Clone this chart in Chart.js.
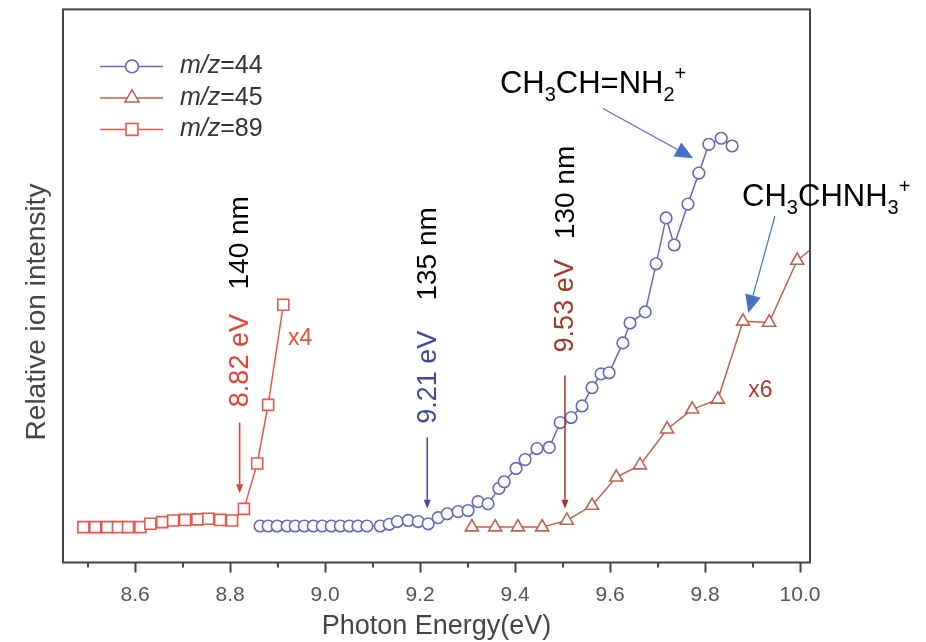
<!DOCTYPE html>
<html>
<head>
<meta charset="utf-8">
<title>Photoionization efficiency curves</title>
<script src="https://cdn.jsdelivr.net/npm/chart.js@4.4.1/dist/chart.umd.min.js"></script>
<style>
  html, body { margin: 0; padding: 0; background: #fff; }
  canvas { display: block; }
</style>
</head>
<body>
<canvas id="chart" width="926" height="642"></canvas>
<script>
// photon energy (eV) and relative ion intensity (arb. units)
const energy44 = [8.863, 8.880, 8.899, 8.920, 8.937, 8.956, 8.975, 8.994, 9.013, 9.032, 9.051, 9.069, 9.088,
  9.116, 9.135, 9.152, 9.175, 9.196, 9.217, 9.238, 9.257, 9.280, 9.301, 9.322, 9.343, 9.366, 9.377,
  9.402, 9.421, 9.446, 9.472, 9.495, 9.518, 9.541, 9.562, 9.581, 9.598, 9.627, 9.642, 9.674, 9.697,
  9.718, 9.735, 9.764, 9.787, 9.808, 9.834, 9.857];
const intensity44 = [6.6, 6.6, 6.6, 6.6, 6.6, 6.6, 6.6, 6.6, 6.6, 6.6, 6.6, 6.6, 6.6,
  6.6, 6.9, 7.4, 7.6, 7.4, 7.0, 8.1, 8.8, 9.2, 9.4, 11.0, 10.6, 13.4, 14.6,
  17.0, 18.6, 20.6, 20.8, 25.3, 26.2, 28.3, 31.6, 34.1, 34.3, 39.7, 43.3, 45.3, 54.0,
  62.3, 57.4, 64.8, 70.4, 75.6, 76.7, 75.3];

const energy45 = [9.309, 9.358, 9.406, 9.457, 9.509, 9.562, 9.613, 9.663, 9.720, 9.773, 9.827, 9.880, 9.935, 9.994, 10.05];
const intensity45 = [6.4, 6.4, 6.4, 6.4, 7.6, 10.3, 15.4, 17.6, 24.1, 27.7, 29.5, 43.6, 43.4, 54.6, 58.5];

const energy89 = [8.491, 8.516, 8.541, 8.564, 8.585, 8.611, 8.632, 8.657, 8.680, 8.705, 8.731, 8.754, 8.779, 8.804,
  8.829, 8.857, 8.880, 8.912];
const intensity89 = [6.4, 6.4, 6.4, 6.4, 6.4, 6.4, 7.0, 7.3, 7.6, 7.7, 7.8, 7.9, 7.7, 7.6,
  9.7, 17.9, 28.5, 46.6];

const majorTicks = [8.6, 8.8, 9.0, 9.2, 9.4, 9.6, 9.8, 10.0];
const minorTicks = [8.5, 8.7, 8.9, 9.1, 9.3, 9.5, 9.7, 9.9];

const FONT = "'Liberation Sans', Arial, Helvetica, sans-serif";
const BLUE = "#6469bd";
const BROWN = "#c2604e";
const RED = "#ec5448";

const points = (xs, ys) => xs.map((x, i) => ({ x, y: ys[i] }));

// threshold arrows: energy, arrow top, arrow tip, label centres (data units)
const thresholds = [
  { x: 8.82, from: 25.3, to: 12.5, color: "#ee3b2e", ev: "8.82 eV", nm: "140 nm", evY: 36.5, nmY: 57.8 },
  { x: 9.215, from: 22.6, to: 9.7, color: "#4048a6", ev: "9.21 eV", nm: "135 nm", evY: 33.5, nmY: 55.8 },
  { x: 9.505, from: 33.8, to: 9.7, color: "#a5372a", ev: "9.53 eV", nm: "130 nm", evY: 46.4, nmY: 66.9 },
];

function drawArrow(ctx, x1, y1, x2, y2, color, width, headLen, headHalf) {
  const ang = Math.atan2(y2 - y1, x2 - x1);
  const bx = x2 - headLen * Math.cos(ang);
  const by = y2 - headLen * Math.sin(ang);
  ctx.strokeStyle = color;
  ctx.lineWidth = width;
  ctx.beginPath();
  ctx.moveTo(x1, y1);
  ctx.lineTo(bx, by);
  ctx.stroke();
  ctx.fillStyle = color;
  ctx.beginPath();
  ctx.moveTo(x2, y2);
  ctx.lineTo(bx + headHalf * Math.sin(ang), by - headHalf * Math.cos(ang));
  ctx.lineTo(bx - headHalf * Math.sin(ang), by + headHalf * Math.cos(ang));
  ctx.closePath();
  ctx.fill();
}

function vText(ctx, text, x, y, color, size) {
  ctx.save();
  ctx.translate(x, y);
  ctx.rotate(-Math.PI / 2);
  ctx.font = size + "px " + FONT;
  ctx.fillStyle = color;
  ctx.textAlign = "center";
  ctx.textBaseline = "middle";
  ctx.fillText(text, 0, 0);
  ctx.restore();
}

// chemical formula with sub/superscripts, x = left edge, y = baseline
function chem(ctx, parts, x, y, size) {
  ctx.fillStyle = "#000";
  ctx.textAlign = "left";
  ctx.textBaseline = "alphabetic";
  for (const [txt, kind] of parts) {
    const small = Math.round(size * 0.66);
    ctx.font = (kind === "n" ? size : small) + "px " + FONT;
    const dy = kind === "sub" ? size * 0.25 : kind === "sup" ? -size * 0.42 : 0;
    ctx.fillText(txt, x, y + dy);
    x += ctx.measureText(txt).width;
  }
}

const overlay = {
  id: "overlay",
  afterDraw(chart) {
    const { ctx, chartArea: a, scales: { x, y } } = chart;
    ctx.save();

    // frame
    ctx.strokeStyle = "#444";
    ctx.lineWidth = 2;
    ctx.strokeRect(a.left, a.top, a.right - a.left, a.bottom - a.top);

    // minor ticks
    for (const v of minorTicks) {
      const px = Math.round(x.getPixelForValue(v));
      ctx.beginPath();
      ctx.moveTo(px, a.bottom);
      ctx.lineTo(px, a.bottom + 5);
      ctx.stroke();
    }

    // y title
    vText(ctx, "Relative ion intensity", 37, 312, "#444", 28);

    // threshold arrows and labels
    for (const t of thresholds) {
      const px = x.getPixelForValue(t.x);
      drawArrow(ctx, px, y.getPixelForValue(t.from), px, y.getPixelForValue(t.to), t.color, 1.5, 9, 3.5);
      vText(ctx, t.ev, px + 1, y.getPixelForValue(t.evY), t.color, 27);
      vText(ctx, t.nm, px + 1, y.getPixelForValue(t.nmY), "#000", 28);
    }

    // scale factors
    ctx.font = "23px " + FONT;
    ctx.textAlign = "left";
    ctx.textBaseline = "middle";
    ctx.fillStyle = "#ec4a3c";
    ctx.fillText("x4", x.getPixelForValue(8.922), y.getPixelForValue(40.4));
    ctx.fillStyle = "#a8402e";
    ctx.fillText("x6", x.getPixelForValue(9.891), y.getPixelForValue(31.0));

    // ion assignments
    chem(ctx, [["CH", "n"], ["3", "sub"], ["CH=NH", "n"], ["2", "sub"], ["+", "sup"]],
      x.getPixelForValue(9.368), y.getPixelForValue(84.8), 31);
    drawArrow(ctx, x.getPixelForValue(9.585), y.getPixelForValue(82.1),
      x.getPixelForValue(9.775), y.getPixelForValue(73.1), "#4472c4", 1.2, 18, 8);
    chem(ctx, [["CH", "n"], ["3", "sub"], ["CHNH", "n"], ["3", "sub"], ["+", "sup"]],
      x.getPixelForValue(9.878), y.getPixelForValue(64.4), 31);
    drawArrow(ctx, x.getPixelForValue(9.947), y.getPixelForValue(62.6),
      x.getPixelForValue(9.891), y.getPixelForValue(45.1), "#4472c4", 1.2, 18, 8);

    // legend
    chart.data.datasets.forEach((ds, i) => {
      const ly = a.top + 57 + i * 31.5;
      const lx = a.left + 37;
      ctx.strokeStyle = ds.borderColor;
      ctx.lineWidth = 1.5;
      ctx.beginPath();
      ctx.moveTo(lx, ly);
      ctx.lineTo(lx + 63, ly);
      ctx.stroke();
      ctx.fillStyle = "#fff";
      ctx.lineWidth = 1.6;
      Chart.helpers.drawPoint(ctx, { pointStyle: ds.pointStyle, radius: ds.pointRadius + 0.6, borderWidth: 1.6, rotation: 0 }, lx + 32, ly);
      ctx.fillStyle = "#333";
      ctx.textBaseline = "middle";
      ctx.textAlign = "left";
      ctx.font = "italic 25px " + FONT;
      ctx.fillText("m/z", lx + 80, ly);
      const w = ctx.measureText("m/z").width;
      ctx.font = "25px " + FONT;
      ctx.fillText("=" + ds.label.split("=")[1], lx + 80 + w, ly);
    });

    ctx.restore();
  },
};

function series(label, xs, ys, color, style, radius) {
  return {
    label,
    data: points(xs, ys),
    borderColor: color,
    backgroundColor: "#fff",
    borderWidth: 1.5,
    pointStyle: style,
    pointRadius: radius,
    pointBorderWidth: 1.6,
    pointBackgroundColor: "#fff",
    pointBorderColor: color,
    tension: 0,
    fill: false,
  };
}

new Chart(document.getElementById("chart"), {
  type: "line",
  data: {
    datasets: [
      series("m/z=44", energy44, intensity44, BLUE, "circle", 5.8),
      series("m/z=45", energy45, intensity45, BROWN, "triangle", 7.5),
      series("m/z=89", energy89, intensity89, RED, "rect", 7.8),
    ],
  },
  options: {
    responsive: false,
    animation: false,
    devicePixelRatio: 1,
    layout: { padding: { left: 63, top: 8, right: 116, bottom: 3 } },
    plugins: { legend: { display: false }, tooltip: { enabled: false } },
    scales: {
      x: {
        type: "linear",
        min: 8.448,
        max: 10.021,
        afterBuildTicks: (scale) => {
          scale.ticks = majorTicks.map((v) => ({ value: v }));
        },
        border: { display: false },
        grid: { drawOnChartArea: false, drawTicks: true, tickLength: 10, tickWidth: 2, tickColor: "#444" },
        ticks: {
          padding: 10,
          color: "#555",
          font: { family: FONT, size: 21 },
          maxRotation: 0,
          autoSkip: false,
          callback: (v) => Number(v).toFixed(1),
        },
        title: {
          display: true,
          text: "Photon Energy(eV)",
          color: "#444",
          font: { family: FONT, size: 27, lineHeight: 0.9 },
          padding: { top: -3, bottom: 0 },
        },
      },
      y: { display: false, min: 0, max: 100 },
    },
  },
  plugins: [overlay],
});
</script>
</body>
</html>
